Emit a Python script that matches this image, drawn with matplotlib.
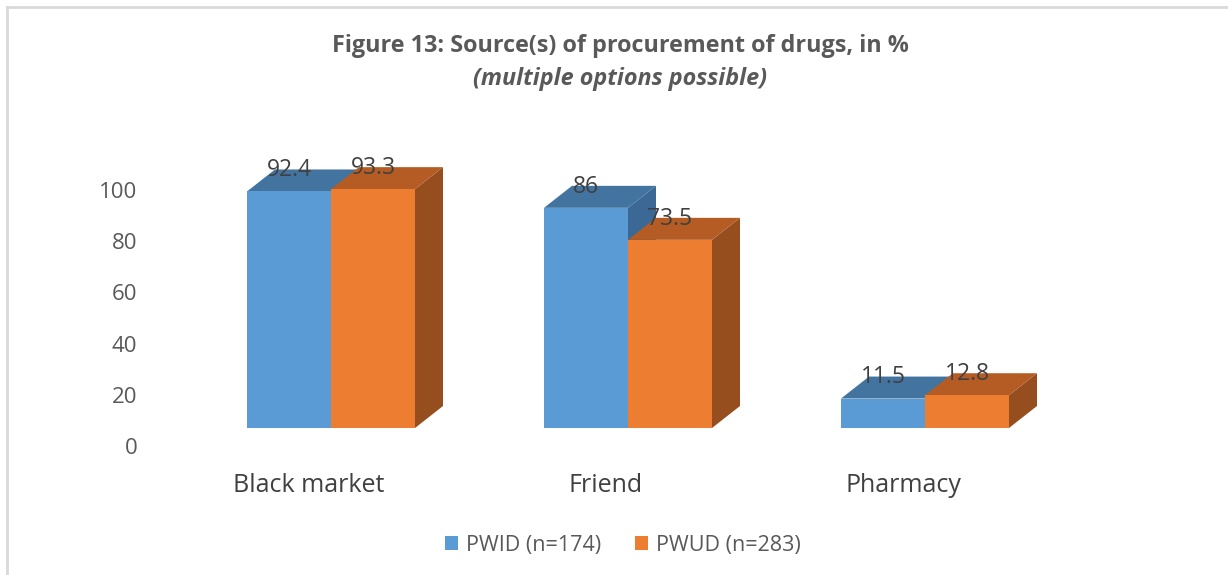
import matplotlib.pyplot as plt
from matplotlib.patches import Polygon, Rectangle
from matplotlib.lines import Line2D
import matplotlib.transforms as mtransforms

plt.rcParams['font.family'] = ['Open Sans', 'DejaVu Sans']

# data
categories = ['Black market', 'Friend', 'Pharmacy']
series_names = ['PWID (n=174)', 'PWUD (n=283)']
pwid = [92.4, 86, 11.5]
pwud = [93.3, 73.5, 12.8]
yticks = [0, 20, 40, 60, 80, 100]

# colours: front, top, side
blue = ('#5B9BD5', '#4374A0', '#3B6894')
orange = ('#ED7D31', '#B45C23', '#964E1E')

W, H = 1228, 575
fig = plt.figure(figsize=(W / 100, H / 100), dpi=100)

# axes placed in pixels (from top) so the 3d faux-depth maps cleanly
left_px, right_px, top_px, bot_px = 150, 1100, 120, 460
ax = fig.add_axes([left_px / W, 1 - bot_px / H,
                   (right_px - left_px) / W, (bot_px - top_px) / H])

cat_step = 297.0      # px per category
px_per_unit = 2.56    # px per value unit
base_px = 428         # front baseline (from top)
ax.set_xlim(-(331 - left_px) / cat_step, (right_px - 331) / cat_step)
ax.set_ylim(-(bot_px - base_px) / px_per_unit, (base_px - top_px) / px_per_unit)

bw = 84 / cat_step    # bar width
dx = 28 / cat_step    # depth offset
dy = 22 / px_per_unit


def draw_bar(x0, h, cols):
    x1 = x0 + bw
    side = [(x1, 0), (x1, h), (x1 + dx, h + dy), (x1 + dx, dy)]
    top = [(x0, h), (x1, h), (x1 + dx, h + dy), (x0 + dx, h + dy)]
    ax.add_patch(Polygon(side, closed=True, fc=cols[2], ec='none'))
    ax.add_patch(Polygon(top, closed=True, fc=cols[1], ec='none'))
    ax.add_patch(Rectangle((x0, 0), bw, h, fc=cols[0], ec='none'))


for i in range(len(categories)):
    draw_bar(i - bw, pwid[i], blue)
    draw_bar(i, pwud[i], orange)
    for x0, v in [(i - bw, pwid[i]), (i, pwud[i])]:
        ax.text(x0 + bw / 2, v + dy - 0.3, f'{v:g}', ha='center', va='center',
                fontsize=16.5, color='#404040')

for s in ax.spines.values():
    s.set_visible(False)

ax.set_yticks(yticks)
ax.set_yticklabels([str(t) for t in yticks])
ax.tick_params(axis='y', length=0, pad=9, labelsize=16, labelcolor='#595959')
yoff = mtransforms.ScaledTranslation(0, -18 / 100, fig.dpi_scale_trans)
for lab in ax.get_yticklabels():
    lab.set_transform(lab.get_transform() + yoff)

ax.set_xticks(range(len(categories)))
ax.set_xticklabels(categories)
ax.tick_params(axis='x', length=0, pad=9, labelsize=18, labelcolor='#404040')
xoff = mtransforms.ScaledTranslation(-22 / 100, 0, fig.dpi_scale_trans)
for lab in ax.get_xticklabels():
    lab.set_transform(lab.get_transform() + xoff)

# titles
fig.text(620 / W, 1 - 46 / H, 'Figure 13: Source(s) of procurement of drugs, in %',
         ha='center', va='center', fontsize=16.8, fontweight='bold', color='#595959')
fig.text(620 / W, 1 - 79 / H, '(multiple options possible)',
         ha='center', va='center', fontsize=16.8, fontweight='bold',
         fontstyle='italic', color='#595959')

# legend
handles = [Rectangle((0, 0), 1, 1, fc=blue[0], ec='none'),
           Rectangle((0, 0), 1, 1, fc=orange[0], ec='none')]
fig.legend(handles, series_names, loc='center', bbox_to_anchor=(623 / W, 1 - 545 / H),
           ncol=2, frameon=False, fontsize=15.5, labelcolor='#595959',
           handlelength=0.6, handleheight=0.6, handletextpad=0.35, columnspacing=1.6)

# chart border (left & top edge visible)
fig.add_artist(Line2D([7 / W, 7 / W], [0, 1 - 7 / H], color='#D9D9D9', lw=2))
fig.add_artist(Line2D([7 / W, 1], [1 - 7 / H, 1 - 7 / H], color='#D9D9D9', lw=2))

fig.savefig('out.png', dpi=100)
